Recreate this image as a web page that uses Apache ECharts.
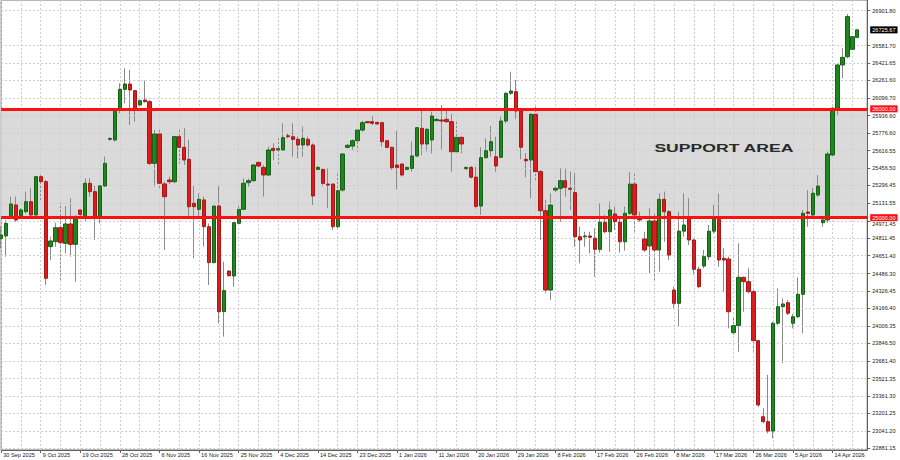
<!DOCTYPE html>
<html>
<head>
<meta charset="utf-8">
<script src="https://cdn.jsdelivr.net/npm/echarts@6.0.0/dist/echarts.min.js"></script>
<style>
html,body{margin:0;padding:0;background:#ffffff;}
#chart{width:900px;height:460px;}
</style>
</head>
<body>
<div id="chart"></div>
<script>
// ---- data ----
const xTickLabels = ['30 Sep 2025','9 Oct 2025','19 Oct 2025','28 Oct 2025','6 Nov 2025','16 Nov 2025','25 Nov 2025','4 Dec 2025','14 Dec 2025','23 Dec 2025','1 Jan 2026','11 Jan 2026','20 Jan 2026','29 Jan 2026','8 Feb 2026','17 Feb 2026','26 Feb 2026','8 Mar 2026','17 Mar 2026','26 Mar 2026','5 Apr 2026','14 Apr 2026'];
const barsPerLabel = 8;

const open = [24810,24832,25009,25117,25016,25055,25147,25025,25377,25331,
24734,24780,24908,24764,24942,24755,25071,25009,25316,25239,
25009,25291,25720,25714,25996,26179,26228,26167,26035,26081,
26066,25499,25769,25310,25346,25331,25745,25646,25536,25132,
25077,25163,24917,24587,25107,24137,24510,24464,24948,25077,
25322,25340,25508,25462,25392,25637,25622,25622,25753,25744,
25720,25668,25720,25668,25444,25444,25309,25309,24917,25254,
25646,25658,25707,25805,25882,25882,25876,25873,25707,25646,
25484,25493,25444,25453,25567,25821,25677,25714,25891,25897,
25903,25882,25606,25738,25450,25462,25372,25107,25551,25615,
25560,25555,25888,26143,26158,25980,25536,25530,25950,25423,
25064,24335,25254,25270,25340,25270,25230,24825,24825,24832,
24810,24709,24958,24871,25034,24958,24779,25040,25309,24994,
24804,24740,24970,24703,25169,25055,24335,24213,24876,25009,
24795,24526,24556,24642,24876,24985,24627,24620,23943,24008,
24452,24412,24320,23870,23171,23126,23040,24030,24182,24219,
24030,24090,24296,25052,25025,25208,24954,24979,25576,26005,
26403,26479,26547,26657];
const high = [24918,24979,25193,25193,25086,25239,25270,25383,25392,25346,
24826,24954,25132,25107,25178,25025,25090,25362,25362,25300,
25300,25561,25738,25996,26235,26372,26357,26173,26088,26259,
26081,25806,25821,25331,25377,25751,25821,25821,25714,25291,
25224,25193,24948,25110,25300,24596,24519,24963,25132,25362,
25361,25493,25514,25484,25652,25683,25729,25867,25775,25867,
25744,25836,25744,25683,25475,25453,25453,25315,25423,25591,
25677,25720,25821,25891,25888,25934,25882,25882,25714,25652,
25799,25499,25469,25698,25830,25983,25821,25974,25913,26035,
25989,25952,25882,25744,25469,25475,25469,25647,25729,25842,
25744,25928,26152,26341,26265,25990,25592,25959,26020,25438,
25162,25224,25285,25454,25454,25423,25408,24917,24871,24871,
24902,25132,25025,25147,25101,25009,25101,25417,25408,25055,
24871,25086,25040,25224,25239,25070,24366,25055,25224,25178,
24811,24550,24703,24933,25116,25224,24719,24642,24090,24765,
24458,24535,24336,23876,23249,23555,24044,24351,24259,24244,
24115,24452,25070,25254,25273,25392,24997,25606,26020,26418,
26556,26871,26669,26731];
const low = [24718,24642,24994,24963,25003,25040,25009,25016,25163,24382,
24611,24734,24421,24672,24642,24412,24994,24963,25193,24795,
24948,25285,25708,25699,25959,26051,25852,25882,26020,26057,
25484,25285,25270,24703,25310,25316,25499,25484,25009,24627,
25009,24734,24382,24581,24029,23907,24458,24366,24933,25071,
25285,25331,25462,25193,25383,25530,25484,25616,25729,25560,
25545,25560,25652,25116,25438,25285,25086,24887,24887,25239,
25637,25622,25606,25790,25867,25851,25851,25652,25637,25438,
25260,25377,25438,25423,25560,25576,25606,25591,25882,25628,
25873,25423,25591,25591,25438,25361,25086,25025,25546,25560,
25422,25546,25867,26127,25907,25536,25371,25178,25346,24795,
24305,24244,25224,24963,25193,25071,24733,24581,24733,24673,
24458,24678,24856,24687,24887,24678,24697,25025,24871,24963,
24687,24489,24409,24504,24779,24611,24168,23998,24825,24749,
24474,24351,24535,24611,24856,24550,24320,23984,23922,23769,
24136,24305,23769,23263,23111,23019,22973,24014,23662,24106,
23984,24076,23938,24917,24997,25193,24917,24954,25560,25943,
26281,26464,26541,26648];
const close = [24841,24948,25126,24979,25071,25147,25025,25377,25331,24443,
24786,24908,24770,24942,24755,24994,25030,25316,25239,25009,
25291,25499,25728,25990,26179,26228,26173,25990,26075,26066,
25499,25769,25316,25193,25330,25745,25646,25530,25101,25101,
25169,24917,24587,25107,24137,24330,24467,24954,25077,25316,
25340,25484,25475,25392,25622,25616,25634,25735,25744,25720,
25668,25729,25668,25199,25462,25315,25300,24917,25248,25585,
25665,25707,25805,25873,25873,25867,25861,25698,25646,25459,
25462,25392,25462,25567,25827,25677,25812,25934,25903,25888,
25882,25606,25738,25677,25462,25372,25104,25551,25615,25698,
25475,25888,26143,26164,25980,25647,25523,25950,25423,25064,
24335,25116,25270,25340,25279,25261,24825,24795,24832,24820,
24709,24958,24871,25071,24963,24779,25040,25309,25025,24979,
24703,24970,24703,25169,25055,24657,24213,24876,24933,24795,
24526,24366,24642,24876,24985,24611,24611,24136,24008,24452,
24412,24320,23870,23279,23126,23040,24030,24182,24207,24122,
24090,24296,25040,25040,25224,25291,24979,25585,26005,26403,
26473,26847,26663,26725.67];

const yTickValues = [26901.80,26581.70,26421.65,26261.60,26096.70,25936.60,25776.60,25616.55,25456.50,25296.45,25131.55,24971.45,24811.45,24651.40,24486.30,24326.45,24166.40,24006.35,23846.50,23681.40,23521.35,23361.30,23201.25,23041.20,22881.15];
const supportLow = 25000.00;
const supportHigh = 26000.00;
const lastPrice = 26725.67;
const supportText = 'SUPPORT AREA';
const supportTextAnchor = [132.1, 25634];

// ---- build chart ----
const padBars = 2;
const categories = Array.from({length: open.length + padBars}, (_, i) => String(i));
const wickData = open.map((o, i) => [o, close[i], low[i], high[i]]);
const bodyData = open.map((o, i) => [o, close[i], Math.min(o, close[i]), Math.max(o, close[i])]);

const FONT = '"Liberation Sans", Arial, sans-serif';
const chart = echarts.init(document.getElementById('chart'), null, {renderer: 'svg'});

// a label sitting right under the 25000 tag is nudged down a little so both stay readable
const nearTag = v => Math.abs(v - supportLow) < 60;

const tagLabel = (bg) => ({
  show: true, position: 'end', distance: 3,
  formatter: p => Number(p.value).toFixed(2),
  color: '#ffffff', backgroundColor: bg,
  fontSize: 5.6, fontFamily: FONT, padding: [1, 2, 0, 2], lineHeight: 6
});

const option = {
  animation: false,
  backgroundColor: '#ffffff',
  grid: {left: 1.15, right: 32.8, top: 0, bottom: 10, show: true, borderColor: '#707070', borderWidth: 1},
  xAxis: {
    type: 'category',
    data: categories,
    boundaryGap: false,
    z: 3,
    axisLine: {show: true, lineStyle: {color: '#606060', width: 1}},
    axisTick: {show: true, interval: barsPerLabel - 1, length: 3, lineStyle: {color: '#606060'}},
    axisLabel: {
      show: true, interval: barsPerLabel - 1, margin: 2, align: 'left',
      padding: [0, 0, 0, 2],
      fontSize: 5.6, fontFamily: FONT, color: '#222',
      formatter: (v, idx) => (idx % barsPerLabel === 0 && xTickLabels[idx / barsPerLabel]) ? xTickLabels[idx / barsPerLabel] : ''
    },
    splitLine: {show: true, interval: 3, lineStyle: {color: '#cdcdcd', type: [2, 2], width: 1}}
  },
  yAxis: {
    type: 'value',
    position: 'right',
    min: 22865.5,
    max: 27000,
    scale: true,
    z: 3,
    axisLine: {show: true, lineStyle: {color: '#606060', width: 1}},
    axisTick: {show: true, length: 3, customValues: yTickValues, lineStyle: {color: '#606060'}},
    axisLabel: {
      show: true, margin: 5, fontSize: 5.6, fontFamily: FONT, color: '#222',
      customValues: yTickValues,
      formatter: v => nearTag(v) ? '{low|' + Number(v).toFixed(2) + '}' : Number(v).toFixed(2),
      rich: {low: {fontSize: 5.6, fontFamily: FONT, color: '#222', padding: [7, 0, 0, 0]}}
    },
    splitLine: {show: true, lineStyle: {color: '#cdcdcd', type: [2, 2], width: 1}}
  },
  series: [
    {
      type: 'candlestick',
      name: 'wick',
      data: wickData,
      barWidth: 1,
      silent: true,
      itemStyle: {color: '#8a8a8a', color0: '#8a8a8a', borderColor: '#8a8a8a', borderColor0: '#8a8a8a', borderWidth: 1},
      markArea: {
        silent: true,
        itemStyle: {color: '#dadada'},
        data: [[{yAxis: supportLow}, {yAxis: supportHigh}]]
      },
      z: 2
    },
    {
      type: 'candlestick',
      name: 'body',
      data: bodyData,
      barWidth: 3.8,
      itemStyle: {color: '#1d861d', color0: '#dc1c1c', borderColor: '#17601a', borderColor0: '#a81818', borderWidth: 1},
      markLine: {
        silent: true,
        symbol: ['none', 'none'],
        animation: false,
        data: [
          {yAxis: supportHigh, lineStyle: {color: '#ff1010', width: 3, type: 'solid'}, label: tagLabel('#ff1010')},
          {yAxis: supportLow, lineStyle: {color: '#ff1010', width: 3, type: 'solid'}, label: tagLabel('#ff1010')},
          {yAxis: lastPrice, lineStyle: {color: 'rgba(0,0,0,0)', width: 1, type: 'solid'}, label: tagLabel('#000000')}
        ]
      },
      z: 4
    }
  ]
};
chart.setOption(option);

const anchor = chart.convertToPixel({xAxisIndex: 0, yAxisIndex: 0}, supportTextAnchor);
chart.setOption({
  graphic: [{
    type: 'text',
    x: anchor[0], y: anchor[1],
    scaleX: 1.6, scaleY: 1,
    z: 10,
    style: {text: supportText, fill: '#2a2a2a', font: 'bold 11px ' + FONT, align: 'left', verticalAlign: 'middle'}
  }]
});
</script>
</body>
</html>
